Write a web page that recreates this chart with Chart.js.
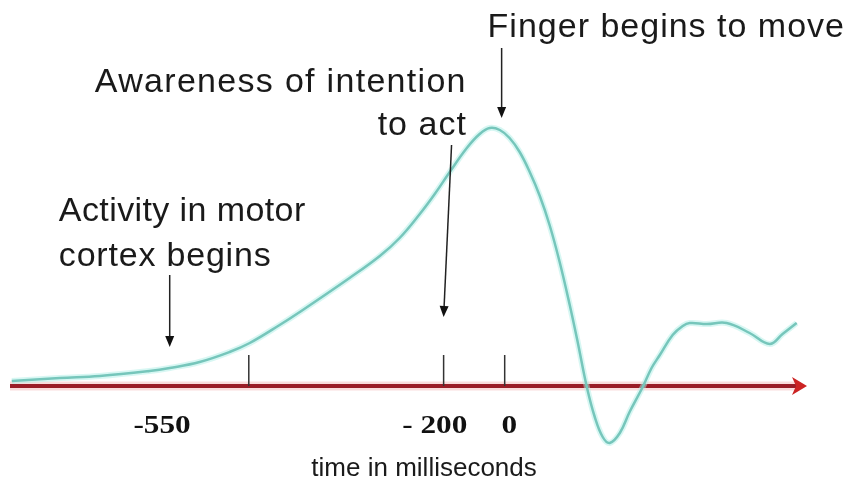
<!DOCTYPE html>
<html>
<head>
<meta charset="utf-8">
<script src="https://cdn.jsdelivr.net/npm/chart.js@4/dist/chart.umd.min.js"></script>
<style>
  body { margin: 0; background: #fff; }
  #wrap { width: 853px; height: 482px; }
</style>
</head>
<body>
<div id="wrap"><canvas id="libetChart" width="853" height="482"></canvas></div>
<script>
// Readiness potential curve (time units along the arrow, amplitude above the axis)
const timeMs = [-1614, -1457, -1326, -1163, -1097, -999, -901, -835, -737, -671, -508, -409, -344, -278, -229, -180, -124, -82, -49, -16, 16, 49, 82, 115, 147, 180, 213, 239, 269, 295, 321, 344, 377, 409, 452, 481, 508, 550, 583, 606, 662, 727, 802, 868, 910, 956];
const amplitude = [0.5, 0.8, 1.0, 1.5, 1.8, 2.4, 3.4, 4.3, 6.1, 7.4, 10.8, 13.0, 14.8, 17.2, 19.2, 21.4, 23.8, 25.2, 25.8, 25.6, 24.8, 23.4, 21.4, 19.0, 16.1, 12.4, 8.1, 4.4, -0.1, -3.1, -5.1, -5.7, -4.7, -2.6, -0.1, 1.8, 3.1, 5.1, 6.0, 6.3, 6.2, 6.3, 5.3, 4.2, 5.2, 6.3];

// small vertical marks on the time axis
const tickMarks = [-838, -200, 0];
// labels under the axis (the drawing is not to scale)
const tickLabelAt = [-1122, -229, 15];
const tickLabelText = ['-550', '- 200', '0'];

// annotation texts and the arrows that go with them
const noteText = ['Finger begins to move', 'Awareness of intention', 'to act', 'Activity in motor', 'cortex begins'];
const noteX = [-56, -124, -124, -1460, -1460];
const noteY = [34.9, 29.4, 25.1, 16.5, 12.0];
const noteAlign = ['left', 'right', 'right', 'left', 'left'];
const noteSpacing = ['1px', '1.3px', '1px', '0.4px', '0.8px'];
const arrowFrom = [[-10, 33.8], [-174, 24.1], [-1097, 11.1]];
const arrowTo = [[-10, 26.8], [-200, 6.9], [-1097, 3.9]];

const axisTitle = 'time in milliseconds';

// Draws the red time arrow and the small ticks under the curve
const axisPlugin = {
    id: 'axisArrow',
    beforeDatasetsDraw(chart) {
        const ctx = chart.ctx;
        const x = chart.scales.x;
        const y = chart.scales.y;
        const y0 = y.getPixelForValue(0);
        const left = x.getPixelForValue(x.min);
        const right = x.getPixelForValue(x.max);

        ctx.save();
        // soft glow
        ctx.strokeStyle = 'rgba(235,140,140,0.3)';
        ctx.lineWidth = 9;
        ctx.beginPath();
        ctx.moveTo(left, y0);
        ctx.lineTo(right - 8, y0);
        ctx.stroke();

        ctx.strokeStyle = '#9a1d27';
        ctx.lineWidth = 4;
        ctx.beginPath();
        ctx.moveTo(left, y0);
        ctx.lineTo(right - 6, y0);
        ctx.stroke();

        // arrow head
        ctx.fillStyle = '#cc2323';
        ctx.beginPath();
        ctx.moveTo(right, y0);
        ctx.lineTo(right - 15, y0 - 9);
        ctx.lineTo(right - 11, y0);
        ctx.lineTo(right - 15, y0 + 9);
        ctx.closePath();
        ctx.fill();

        // tick marks
        ctx.strokeStyle = '#333';
        ctx.lineWidth = 1.5;
        tickMarks.forEach(function(t) {
            const px = x.getPixelForValue(t);
            ctx.beginPath();
            ctx.moveTo(px, y0);
            ctx.lineTo(px, y.getPixelForValue(3.1));
            ctx.stroke();
        });
        ctx.restore();
    }
};

// Draws tick labels, axis title and the annotations with arrows
const notesPlugin = {
    id: 'notes',
    afterDatasetsDraw(chart) {
        const ctx = chart.ctx;
        const x = chart.scales.x;
        const y = chart.scales.y;

        ctx.save();
        // tick labels, bold serif, a bit wide
        ctx.fillStyle = '#111';
        ctx.font = 'bold 25px "Liberation Serif", serif';
        ctx.textAlign = 'center';
        ctx.textBaseline = 'alphabetic';
        tickLabelText.forEach(function(label, i) {
            const px = x.getPixelForValue(tickLabelAt[i]);
            const py = y.getPixelForValue(-4.7);
            ctx.save();
            ctx.translate(px, py);
            ctx.scale(1.25, 1);
            ctx.fillText(label, 0, 0);
            ctx.restore();
        });

        // axis title
        ctx.font = '26px "Liberation Sans", Arial, sans-serif';
        ctx.fillStyle = '#1a1a1a';
        ctx.fillText(axisTitle, x.getPixelForValue(-264), y.getPixelForValue(-9.0));

        // annotation text
        ctx.font = '34px "Liberation Sans", Arial, sans-serif';
        noteText.forEach(function(text, i) {
            ctx.letterSpacing = noteSpacing[i];
            ctx.textAlign = noteAlign[i];
            ctx.fillText(text, x.getPixelForValue(noteX[i]), y.getPixelForValue(noteY[i]));
        });
        ctx.letterSpacing = '0px';

        // arrows
        ctx.strokeStyle = '#222';
        ctx.fillStyle = '#111';
        ctx.lineWidth = 1.5;
        arrowFrom.forEach(function(from, i) {
            const x1 = x.getPixelForValue(from[0]);
            const y1 = y.getPixelForValue(from[1]);
            const x2 = x.getPixelForValue(arrowTo[i][0]);
            const y2 = y.getPixelForValue(arrowTo[i][1]);
            const ang = Math.atan2(y2 - y1, x2 - x1);
            ctx.beginPath();
            ctx.moveTo(x1, y1);
            ctx.lineTo(x2 - 8 * Math.cos(ang), y2 - 8 * Math.sin(ang));
            ctx.stroke();
            ctx.beginPath();
            ctx.moveTo(x2, y2);
            ctx.lineTo(x2 - 11 * Math.cos(ang) + 4.5 * Math.sin(ang), y2 - 11 * Math.sin(ang) - 4.5 * Math.cos(ang));
            ctx.lineTo(x2 - 11 * Math.cos(ang) - 4.5 * Math.sin(ang), y2 - 11 * Math.sin(ang) + 4.5 * Math.cos(ang));
            ctx.closePath();
            ctx.fill();
        });
        ctx.restore();
    }
};

function createLibetChart() {
    const ctx = document.getElementById('libetChart').getContext('2d');
    const points = timeMs.map(function(t, i) { return { x: t, y: amplitude[i] }; });

    const config = {
        type: 'line',
        data: {
            datasets: [{
                data: points,
                borderColor: 'rgba(175,240,232,0.5)',
                borderWidth: 6,
                pointRadius: 0,
                tension: 0.4
            }, {
                data: points,
                borderColor: '#3d9c8f',
                borderWidth: 2.5,
                pointRadius: 0,
                tension: 0.4
            }]
        },
        options: {
            responsive: false,
            animation: false,
            layout: { padding: { left: 10, right: 46, top: 0, bottom: 0 } },
            plugins: {
                legend: { display: false },
                tooltip: { enabled: false }
            },
            scales: {
                x: { type: 'linear', display: false, min: -1620, max: 990 },
                y: { display: false, min: -9.6, max: 38.6 }
            }
        },
        plugins: [axisPlugin, notesPlugin]
    };

    new Chart(ctx, config);
}

window.onload = function() {
    createLibetChart();
};
</script>
</body>
</html>
